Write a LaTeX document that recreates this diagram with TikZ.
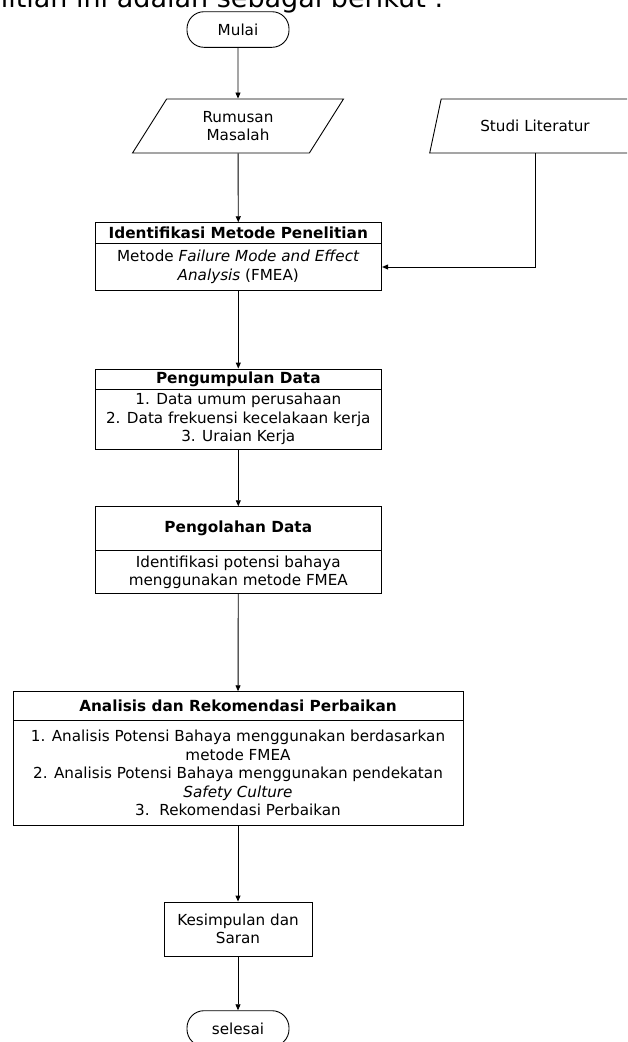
\documentclass[tikz,border=0pt]{standalone}
\usepackage{fontspec}
\setmainfont{DejaVu Sans}
\usetikzlibrary{shapes.geometric}
\usetikzlibrary{arrows.meta}

\tikzset{
  kotak/.style={draw, rectangle, align=center, inner sep=0pt},
  judul/.style={kotak, font=\fontsize{15.3}{18.5}\selectfont\bfseries},
  terminal/.style={draw, rectangle, rounded corners=17pt, minimum width=102, minimum height=35.6},
  masukan/.style={draw, trapezium, trapezium left angle=60.4, trapezium right angle=119.6,
    trapezium stretches=true, minimum width=211, minimum height=54, align=center, inner sep=0pt},
  panah/.style={-{Triangle[length=6pt,width=5pt]}}
}

\begin{document}
\begin{tikzpicture}[x=1pt,y=-1pt,line width=0.9pt,font=\fontsize{15.2}{18.5}\selectfont]
\clip (0,0) rectangle (627,1042);

\node[anchor=base west,font=\fontsize{27}{30}\selectfont] (kalimat) at (-3,7.5) {litian ini adalah sebagai berikut :};

\node[terminal] (mulai) at (238,29.5) {Mulai};
\node[masukan] (rumusan) at (238,126) {Rumusan\\Masalah};
\node[masukan] (studi) at (535,126) {Studi Literatur};

\node[judul,minimum width=286.7,minimum height=20.6] (identjudul) at (238.3,233) {Identifikasi Metode Penelitian};
\node[kotak,minimum width=286.7,minimum height=47.4] (identisi) at (238.3,267) {Metode \textit{Failure Mode and Effect}\\\textit{Analysis} (FMEA)};

\node[judul,minimum width=286.7,minimum height=20] (kumpuljudul) at (238.3,379) {Pengumpulan Data};
\node[kotak,minimum width=286.7,minimum height=60.3] (kumpulisi) at (238.3,419.2) {1. Data umum perusahaan\\2. Data frekuensi kecelakaan kerja\\3. Uraian Kerja};

\node[judul,minimum width=286.7,minimum height=44] (olahjudul) at (238.3,528.7) {Pengolahan Data};
\node[kotak,minimum width=286.7,minimum height=43] (olahisi) at (238.3,572.2) {Identifikasi potensi bahaya\\menggunakan metode FMEA};

\node[judul,minimum width=450,minimum height=29] (analisisjudul) at (238,706.2) {Analisis dan Rekomendasi Perbaikan};
\node[kotak,minimum width=450,minimum height=104.3] (analisisisi) at (238,772.9) {1. Analisis Potensi Bahaya menggunakan berdasarkan\\metode FMEA\\2. Analisis Potensi Bahaya menggunakan pendekatan\\\textit{Safety Culture}\\3.\ \ Rekomendasi Perbaikan};

\node[kotak,minimum width=148,minimum height=54] (simpul) at (238,929) {Kesimpulan dan\\Saran};
\node[terminal] (selesai) at (238,1028.5) {selesai};

\draw[panah] (mulai) -- (rumusan);
\draw[panah] (rumusan) -- (identjudul);
\draw[panah] (studi) |- (identisi);
\draw[panah] (identisi) -- (kumpuljudul);
\draw[panah] (kumpulisi) -- (olahjudul);
\draw[panah] (olahisi) -- (analisisjudul);
\draw[panah] (analisisisi) -- (simpul);
\draw[panah] (simpul) -- (selesai);

\end{tikzpicture}
\end{document}
